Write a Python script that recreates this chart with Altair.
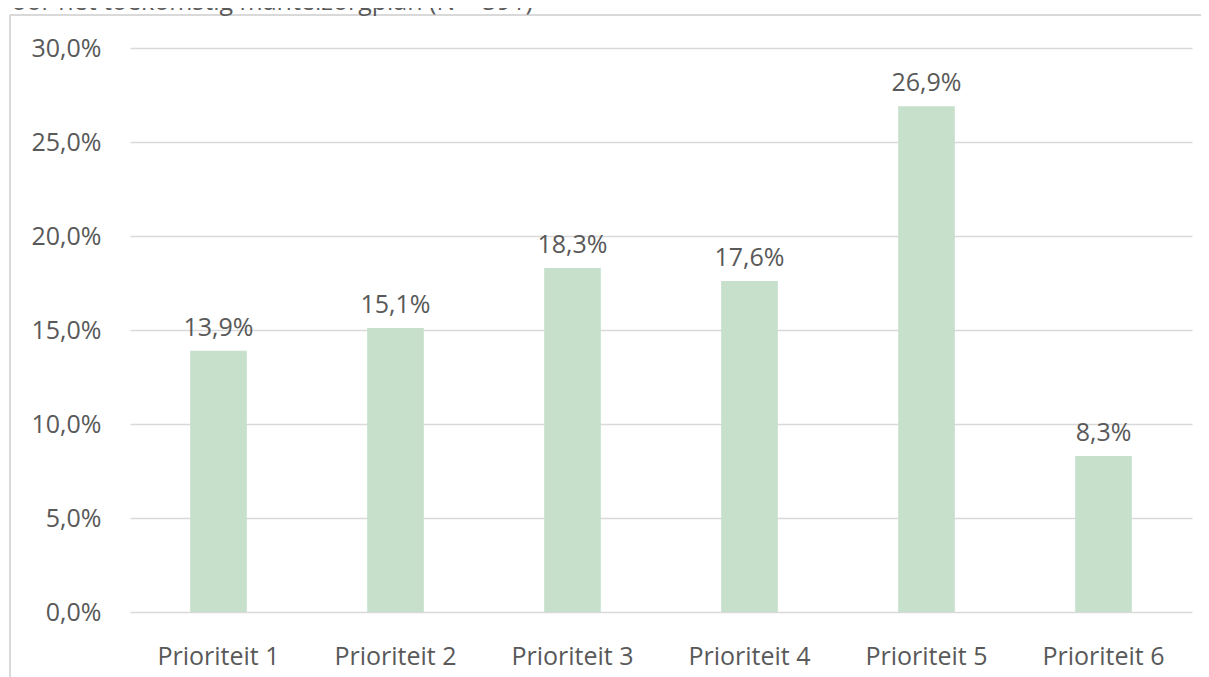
import altair as alt
import pandas as pd

categories = ["Prioriteit 1", "Prioriteit 2", "Prioriteit 3", "Prioriteit 4", "Prioriteit 5", "Prioriteit 6"]
values = [13.9, 15.1, 18.3, 17.6, 26.9, 8.3]
labels = ["13,9%", "15,1%", "18,3%", "17,6%", "26,9%", "8,3%"]
title_text = "voor het toekomstig mantelzorgplan (N = 391)"

df = pd.DataFrame({"cat": categories, "val": values, "lab": labels})

FONT = "Open Sans"
GRAY = "#595959"
FS = 25

x = alt.X("cat:N", sort=categories, title=None,
          scale=alt.Scale(paddingInner=0.68, paddingOuter=0.34),
          axis=alt.Axis(labelAngle=0, labelFontSize=FS, labelColor=GRAY, labelFont=FONT,
                        ticks=False, domain=False, labelPadding=32, grid=False))
y = alt.Y("val:Q", title=None,
          scale=alt.Scale(domain=[0, 30], nice=False),
          axis=alt.Axis(values=[0, 5, 10, 15, 20, 25, 30],
                        labelExpr="replace(format(datum.value, '.1f'), '.', ',') + '%'",
                        labelFontSize=FS, labelColor=GRAY, labelFont=FONT,
                        ticks=False, domain=False, labelPadding=29,
                        gridColor="#d9d9d9", gridWidth=1.5))

bars = alt.Chart(df).mark_bar(color="#c6e0cc").encode(x=x, y=y)
text = alt.Chart(df).mark_text(dy=-23, fontSize=FS, color=GRAY, font=FONT).encode(
    x=alt.X("cat:N", sort=categories), y="val:Q", text="lab:N")

frame_left = alt.Chart(df).mark_rule(color="#d9d9d9", strokeWidth=1.5).encode(
    x=alt.value(-120), y=alt.value(-33), y2=alt.value(700))
frame_top = alt.Chart(df).mark_rule(color="#d9d9d9", strokeWidth=1.5).encode(
    x=alt.value(-120), x2=alt.value(1100), y=alt.value(-33))
title = alt.Chart(pd.DataFrame({"t": [title_text]})).mark_text(
    align="left", baseline="alphabetic", fontSize=FS, color=GRAY, font=FONT).encode(
    x=alt.value(-131), y=alt.value(-38), text="t:N")

chart = alt.layer(bars, text, frame_left, frame_top, title).properties(
    width=1062, height=564,
    autosize=alt.AutoSizeParams(type="none"),
    padding={"left": 122, "top": 40, "right": 9, "bottom": 65},
).configure(background="white").configure_view(stroke=None)

chart.save("out.html", embed_options={"renderer": "svg", "actions": False})
